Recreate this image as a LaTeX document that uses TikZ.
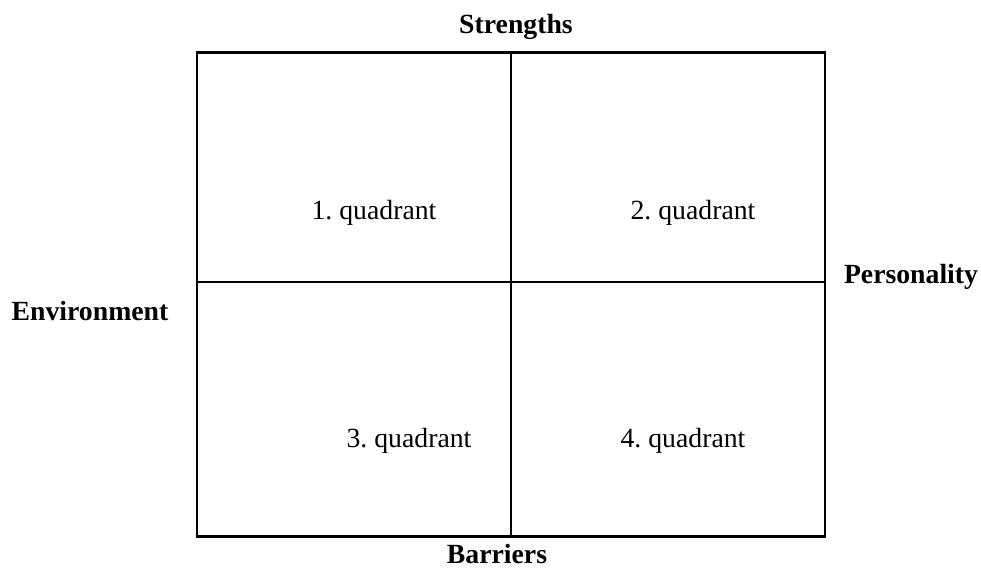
\documentclass[tikz,border=0pt]{standalone}
\usepackage{fontspec}
\setmainfont{Liberation Serif}
\frenchspacing
\begin{document}
\begin{tikzpicture}[x=0.75pt,y=-0.75pt,
  lbl/.style={font=\fontsize{20.8}{24}\selectfont\bfseries, anchor=base, inner sep=0pt},
  quad/.style={font=\fontsize{20.8}{24}\selectfont, anchor=base, inner sep=0pt},
  gridline/.style={line width=1.6pt, black}]
\useasboundingbox (0,0) rectangle (981,575);
\coordinate (tl) at (197,52.5);
\coordinate (tr) at (825,52.5);
\coordinate (bl) at (197,536.5);
\coordinate (br) at (825,536.5);
\coordinate (tm) at (511,52.5);
\coordinate (bm) at (511,536.5);
\coordinate (ml) at (197,282);
\coordinate (mr) at (825,282);
\draw[gridline] (tl) -- (tr) -- (br) -- (bl) -- cycle;
\draw[gridline] (tm) -- (bm);
\draw[gridline] (ml) -- (mr);
\node[lbl] (s) at (516,33) {Strengths};
\node[lbl] (p) at (911,283) {Personality};
\node[lbl] (e) at (90,320) {Environment};
\node[lbl] (b) at (497,563) {Barriers};
\node[quad] (q1) at (374,219) {1.\ quadrant};
\node[quad] (q2) at (693,219) {2.\ quadrant};
\node[quad] (q3) at (409,447) {3.\ quadrant};
\node[quad] (q4) at (683,447) {4.\ quadrant};
\end{tikzpicture}
\end{document}
